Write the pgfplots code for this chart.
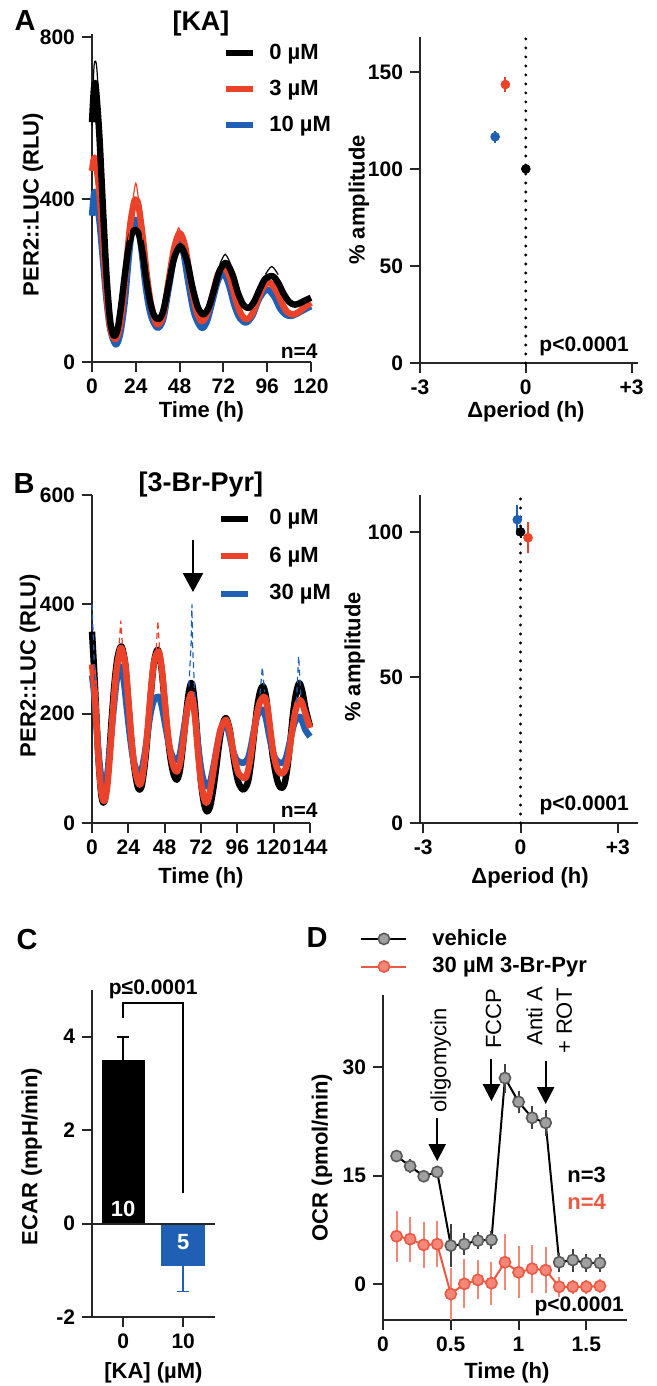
\documentclass[border=0pt]{standalone}
\usepackage{fontspec}
\setmainfont{Liberation Sans}
\usepackage{pgfplots}
\pgfplotsset{compat=1.18}
\usetikzlibrary{arrows.meta}

\definecolor{kred}{RGB}{234,67,42}
\definecolor{kblue}{RGB}{31,95,180}
\definecolor{dred}{RGB}{238,88,66}
\definecolor{dredfill}{RGB}{244,135,120}
\definecolor{dgrey}{RGB}{160,160,160}

\newcommand{\labf}{\fontsize{11}{13}\selectfont\bfseries}
\newcommand{\tickf}{\fontsize{10.5}{12}\selectfont\bfseries}

\tikzset{ann/.style={inner sep=0pt, font=\tickf}}
\pgfplotsset{
  panel/.style={
    scale only axis, anchor=south west, clip=false, enlargelimits=false,
    axis lines=left, axis line style={-, line width=1pt, black!85},
    tick align=outside, major tick length=5pt,
    every tick/.style={line width=1pt, black!85},
    tick label style={font=\tickf},
    label style={font=\labf},
    /pgf/number format/assume math mode=true,
  },
  ts/.style={line width=3.2pt, smooth, line join=round, forget plot},
}

\begin{document}
\begin{tikzpicture}
\useasboundingbox (0,0) rectangle (328.5pt,693pt);

% panel letters and titles
\node[font=\fontsize{14.5}{16}\selectfont\bfseries] at (12.5pt,682.5pt) {A};
\node[font=\fontsize{13.5}{15}\selectfont\bfseries] at (100.5pt,681pt) {[KA]};
\node[font=\fontsize{14.5}{16}\selectfont\bfseries] at (12pt,451pt) {B};
\node[font=\fontsize{13.5}{15}\selectfont\bfseries] at (100.5pt,450.5pt) {[3-Br-Pyr]};
\node[font=\fontsize{14.5}{16}\selectfont\bfseries] at (13.5pt,223pt) {C};
\node[font=\fontsize{14.5}{16}\selectfont\bfseries] at (158.5pt,224pt) {D};

% ---------- A left
\begin{axis}[panel, at={(46pt,512pt)}, width=109.5pt, height=164pt,
  xmin=0, xmax=120, ymin=0, ymax=807,
  xtick={0,24,...,120}, ytick={0,400,800},
  xlabel={Time (h)}, ylabel={PER2::LUC (RLU)},
  xlabel style={at={(axis description cs:0.5,-0.152)}, anchor=center},
  ylabel style={at={(axis description cs:-0.27,0.48)}, anchor=center},
  legend image code/.code={\draw[#1] (0pt,0pt) -- (13.5pt,0pt);},
  legend cell align=left,
  legend style={draw=none, fill=none, font=\labf, at={(axis description cs:0.598,0.97)},
    anchor=north west, inner sep=0pt, row sep=8.7pt, nodes={inner sep=0pt},
    /tikz/every odd column/.append style={column sep=6.5pt}}]
\addlegendimage{black, line width=3pt}\addlegendentry{0 µM}
\addlegendimage{kred, line width=3pt}\addlegendentry{3 µM}
\addlegendimage{kblue, line width=3pt}\addlegendentry{10 µM}
\addplot[ts, kblue] coordinates {
(0,360) (1,410) (2,415) (4,350) (6,250) (8,150) (10,80) (13,43) (15.5,70) (18,150)
(20,250) (22,330) (23.5,350) (25,340) (27,280) (29,200) (31,140) (33,105) (36,84)
(39,105) (42,180) (45,260) (47.5,293) (50,270) (53,190) (56,120) (60,84) (63,100)
(66,150) (69,200) (72,219) (75,190) (78,140) (81,108) (84.5,97) (88,115) (91,150)
(94,172) (96.5,178) (100,160) (103,132) (106,117) (109,113) (112,118) (116,128) (120,137)};
\addplot[ts, kred] coordinates {
(0,470) (1,500) (2,495) (4,420) (6,300) (8,170) (10,85) (12.5,56) (15,80) (17,150)
(19,250) (21,340) (23,392) (24,400) (25.5,385) (28,300) (30,215) (32,150) (34,110)
(36,92) (39,115) (42,200) (45,280) (48,317) (51,285) (54,200) (57,130) (60,100)
(63,118) (66,165) (69,215) (72.5,235) (76,200) (79,150) (82,115) (85,105) (88,120)
(91,155) (94,185) (97.5,195) (101,175) (104,145) (107,123) (110,117) (113,122) (116,133) (120,146)};
\addplot[ts, black] coordinates {
(0,590) (1,670) (2,680) (4,560) (6,380) (8,210) (10,100) (12,64) (14,80) (16,140)
(18,215) (20,280) (22,318) (24,325) (26,310) (28,260) (30,195) (32,145) (34,115)
(36.5,105) (39,125) (42,190) (45,255) (48.5,285) (52,250) (55,185) (58,135) (61,117)
(64,135) (67,180) (70,225) (73.5,244) (77,215) (80,170) (83,140) (86,133) (89,150)
(92,180) (95,205) (99,211) (102,195) (105,168) (108,148) (111,141) (114,145) (117,152) (120,158)};
% thin replicate traces around the peaks
\addplot[forget plot, kred, line width=0.6pt, smooth] coordinates {(20,300) (22.5,400) (24,440) (25.5,400) (28,300)};
\addplot[forget plot, kred, line width=0.6pt, smooth] coordinates {(45,290) (47.5,330) (50,290)};
\addplot[forget plot, black, line width=0.6pt, smooth] coordinates {(0,580) (1,720) (2,740) (3,700) (5,520)};
\addplot[forget plot, black, line width=0.6pt, smooth] coordinates {(70,240) (73,265) (76,240)};
\addplot[forget plot, black, line width=0.6pt, smooth] coordinates {(95,215) (98.5,235) (102,215)};
\node[ann, anchor=east] at (axis cs:123.8,27) {n=4};
\end{axis}

% ---------- A right
\begin{axis}[panel, at={(210pt,511.5pt)}, width=109pt, height=163pt,
  xmin=-3, xmax=3.18, ymin=0, ymax=168,
  xtick={-3,0,3}, xticklabels={-3,0,+3}, ytick={0,50,100,150},
  xlabel={Δperiod (h)}, ylabel={\% amplitude},
  xlabel style={at={(axis description cs:0.486,-0.15)}, anchor=center},
  ylabel style={at={(axis description cs:-0.28,0.5)}, anchor=center}]
\addplot[black, line width=1.6pt, dash pattern=on 0pt off 4.5pt, line cap=round] coordinates {(0,0) (0,168)};
\addplot[black, only marks, mark=*, mark size=2.2pt, error bars/.cd, y dir=both, y explicit, error mark=none,
  error bar style={line width=1pt, black}] coordinates {(0,100) +- (0,1.5)};
\addplot[kred, only marks, mark=*, mark size=2.2pt, error bars/.cd, y dir=both, y explicit, error mark=none,
  error bar style={line width=1pt, kred}] coordinates {(-0.58,143.5) +- (0,4)};
\addplot[kblue, only marks, mark=*, mark size=2.2pt, error bars/.cd, y dir=both, y explicit, error mark=none,
  error bar style={line width=1pt, kblue}] coordinates {(-0.87,116.6) +- (0,3)};
\node[ann, anchor=east] at (axis cs:2.93,8.8) {p<0.0001};
\end{axis}

% ---------- B left
\begin{axis}[panel, at={(46pt,281.5pt)}, width=109pt, height=164pt,
  xmin=0, xmax=144, ymin=0, ymax=600,
  xtick={0,24,...,144}, ytick={0,200,400,600},
  xlabel={Time (h)}, ylabel={PER2::LUC (RLU)},
  xlabel style={at={(axis description cs:0.5,-0.168)}, anchor=center},
  ylabel style={at={(axis description cs:-0.285,0.48)}, anchor=center},
  legend image code/.code={\draw[#1] (0pt,0pt) -- (13.5pt,0pt);},
  legend cell align=left,
  legend style={draw=none, fill=none, font=\labf, at={(axis description cs:0.578,0.957)},
    anchor=north west, inner sep=0pt, row sep=9.6pt, nodes={inner sep=0pt},
    /tikz/every odd column/.append style={column sep=9pt}}]
\addlegendimage{black, line width=3pt}\addlegendentry{0 µM}
\addlegendimage{kred, line width=3pt}\addlegendentry{6 µM}
\addlegendimage{kblue, line width=3pt}\addlegendentry{30 µM}
\addplot[ts, black] coordinates {
(0,350) (2,250) (4,130) (6,55) (7.5,37) (9,50) (11,110) (13,190) (15,260) (17,305)
(19.5,323) (22,290) (24,220) (26,150) (28,100) (30,68) (31.5,61) (33,70) (35,110)
(37,170) (39,240) (41,295) (43.5,317) (46,280) (48,220) (50,160) (52,115) (54,88)
(56,79) (58,95) (60,140) (62,195) (64,240) (66,256) (68,215) (70,140) (72,75) (74,35)
(76,21) (78,30) (80,60) (82,100) (84,145) (86,178) (88.5,192) (91,170) (93,130)
(95,95) (97,72) (100,61) (103,75) (105,110) (107,160) (109,210) (111,240) (113,250)
(115,230) (117,180) (119,130) (121,95) (123,72) (125,64) (127,70) (129,100) (131,150)
(133,205) (135,240) (137,256) (139,240) (141,210) (144,177)};
\addplot[ts, kblue] coordinates {
(0,270) (2,220) (4,140) (6,85) (8,67) (10,85) (12,140) (14,200) (16,255) (17.5,280)
(19,286) (21,260) (23,210) (25,160) (27,120) (29,100) (31,94) (33,100) (35,130)
(37,170) (39,205) (41,225) (44,231) (46,215) (48,185) (50,155) (52,130) (54,118)
(56,116) (58,125) (60,160) (62,195) (64,222) (66,231) (68,200) (70,145) (72,100)
(74,75) (76,67) (78,75) (80,100) (82,130) (84,158) (86,176) (88,183) (90,170) (92,145)
(94,125) (96,114) (100,110) (103,118) (105,140) (107,170) (109,195) (111,205) (113,207)
(115,190) (117,160) (119,135) (121,118) (124,110) (126,110) (128,118) (130,140)
(132,165) (134,185) (137,195) (139,185) (141,170) (144,158)};
\addplot[ts, kred] coordinates {
(0,290) (2,230) (4,130) (6,60) (8,40) (10,65) (12,130) (14,210) (16,275) (18,310)
(19.5,320) (22,290) (24,225) (26,155) (28,105) (30,78) (31.5,70) (33,80) (35,120)
(37,180) (39,245) (41,295) (44,314) (46,285) (48,225) (50,165) (52,125) (54,102)
(56,94) (58,108) (60,145) (62,190) (64,225) (66,235) (68,195) (70,130) (72,75) (74,45)
(75.5,37) (77,45) (79,75) (81,110) (83,145) (85,172) (88.5,189) (91,168) (93,135)
(95,108) (97,90) (101,82) (103,95) (105,125) (107,165) (109,200) (111,222) (114,231)
(116,210) (118,165) (120,125) (122,102) (124,92) (126,91) (128,100) (130,125)
(132,165) (134,200) (136,220) (137.5,225) (139,218) (141,200) (144,174)};
% thin replicate spikes
\addplot[forget plot, kblue, line width=0.6pt, densely dashed] coordinates {(0,400) (1,330) (2,250)};
\addplot[forget plot, kblue, line width=0.6pt, densely dashed] coordinates {(64,250) (65.5,330) (66,400) (66.5,320) (68,230)};
\addplot[forget plot, kblue, line width=0.6pt, densely dashed] coordinates {(111,235) (112.5,285) (114,240)};
\addplot[forget plot, kblue, line width=0.6pt, densely dashed] coordinates {(135,220) (136.5,305) (138,230)};
\addplot[forget plot, kred, line width=0.6pt, densely dashed] coordinates {(17.5,310) (19,370) (20.5,310)};
\addplot[forget plot, kred, line width=0.6pt, densely dashed] coordinates {(42,300) (43.5,370) (45,300)};
\draw[-{Triangle[width=10pt,length=9.5pt]}, line width=1.2pt] (axis cs:66.7,517.7) -- (axis cs:66.7,422.5);
\node[ann, anchor=east] at (axis cs:149.3,23.8) {n=4};
\end{axis}

% ---------- B right
\begin{axis}[panel, at={(210pt,281.5pt)}, width=109pt, height=164pt,
  xmin=-3.1, xmax=3.62, ymin=0, ymax=112.7,
  xtick={-3,0,3}, xticklabels={-3,0,+3}, ytick={0,50,100},
  xlabel={Δperiod (h)}, ylabel={\% amplitude},
  xlabel style={at={(axis description cs:0.505,-0.168)}, anchor=center},
  ylabel style={at={(axis description cs:-0.30,0.506)}, anchor=center}]
\addplot[black, line width=1.6pt, dash pattern=on 0pt off 4.5pt, line cap=round] coordinates {(0,0) (0,112.7)};
\addplot[kblue, only marks, mark=*, mark size=2.2pt, error bars/.cd, y dir=both, y explicit, error mark=none,
  error bar style={line width=1pt, kblue}] coordinates {(-0.1,104.2) +- (0,5.1)};
\addplot[black, only marks, mark=*, mark size=2.2pt, error bars/.cd, y dir=both, y explicit, error mark=none,
  error bar style={line width=1pt, black}] coordinates {(0,100) +- (0,2)};
\addplot[kred, only marks, mark=*, mark size=2.2pt, error bars/.cd, y dir=both, y explicit, error mark=none,
  error bar style={line width=1pt, kred}] coordinates {(0.23,98) +- (0,5.4)};
\node[ann, anchor=east] at (axis cs:3.35,6.2) {p<0.0001};
\end{axis}

% ---------- C
\begin{axis}[panel, at={(46pt,34.5pt)}, width=61.5pt, height=163.5pt,
  xmin=-0.52, xmax=1.53, ymin=-2, ymax=5,
  xtick={0,1}, xticklabels={0,10}, ytick={-2,0,2,4}, yticklabels={-2,0,2,4},
  xlabel={[KA] (µM)}, ylabel={ECAR (mpH/min)},
  xlabel style={at={(axis description cs:0.5,-0.171)}, anchor=center},
  ylabel style={at={(axis description cs:-0.49,0.49)}, anchor=center}]
\addplot[ybar, bar width=0.7, bar shift=0pt, fill=black, draw=black,
  error bars/.cd, y dir=plus, y explicit, error mark=-,
  error mark options={rotate=90, line width=1pt, black, mark size=3pt},
  error bar style={line width=1pt, black}] coordinates {(0,3.5) +- (0,0.5)};
\addplot[ybar, bar width=0.72, bar shift=0pt, fill=kblue, draw=kblue,
  error bars/.cd, y dir=minus, y explicit, error mark=-,
  error mark options={rotate=90, line width=0.8pt, kblue, mark size=3pt},
  error bar style={line width=0.8pt, kblue}] coordinates {(1,-0.9) +- (0,0.55)};
\draw[line width=1pt, black!85] (axis cs:-0.52,0) -- (axis cs:1.53,0);
\draw[line width=0.9pt] (axis cs:0,4.41) -- (axis cs:0,4.73) -- (axis cs:1,4.73) -- (axis cs:1,0.65);
\node[ann] at (axis cs:0.5,5.02) {p≤0.0001};
\node[ann, white, font=\labf] at (axis cs:0,0.32) {10};
\node[ann, white, font=\labf] at (axis cs:1,-0.4) {5};
\end{axis}

% ---------- D
\begin{axis}[panel, at={(191.5pt,33pt)}, width=122pt, height=162.5pt,
  xmin=0, xmax=1.8, ymin=-5, ymax=40,
  xtick={0,0.5,1,1.5}, ytick={0,15,30},
  xlabel={Time (h)}, ylabel={OCR (pmol/min)},
  xlabel style={at={(axis description cs:0.508,-0.163)}, anchor=center},
  ylabel style={at={(axis description cs:-0.25,0.5)}, anchor=center},
  legend image code/.code={\draw[mark repeat=2, mark phase=2, #1] plot coordinates {(0pt,0pt) (11.25pt,0pt) (22.5pt,0pt)};},
  legend cell align=left,
  legend style={draw=none, fill=none, font=\labf, at={(axis description cs:-0.094,1.203)},
    anchor=north west, inner sep=0pt, row sep=4.5pt, nodes={inner sep=0pt},
    /tikz/every odd column/.append style={column sep=12.5pt}}]
\addplot[black, line width=1pt, mark=*, mark size=2.8pt, mark options={fill=dgrey, draw=black!65, line width=0.8pt},
  error bars/.cd, y dir=both, y explicit, error mark=none, error bar style={line width=1pt, black!75}]
coordinates {
(0.1,17.7) +- (0,0.8) (0.2,16.3) +- (0,1) (0.3,14.9) +- (0,0.8) (0.4,15.5) +- (0,0.8)
(0.5,5.3) +- (0,3) (0.6,5.5) +- (0,1.5) (0.7,6.0) +- (0,1.2) (0.8,6.1) +- (0,1.2)
(0.9,28.5) +- (0,2) (1.0,25.2) +- (0,1.5) (1.1,23.0) +- (0,1.6) (1.2,22.3) +- (0,1.8)
(1.3,3.0) +- (0,1.3) (1.4,3.3) +- (0,1.6) (1.5,2.9) +- (0,1.3) (1.6,2.9) +- (0,1.3)};
\addlegendentry{vehicle}
\addplot[dred, line width=1pt, mark=*, mark size=2.8pt, mark options={fill=dredfill, draw=dred, line width=0.8pt},
  error bars/.cd, y dir=both, y explicit, error mark=none, error bar style={line width=1pt, dredfill}]
coordinates {
(0.1,6.6) +- (0,3.5) (0.2,6.2) +- (0,3.1) (0.3,5.4) +- (0,3.2) (0.4,5.5) +- (0,3.2)
(0.5,-1.4) +- (0,3.6) (0.6,0) +- (0,3.4) (0.7,0.55) +- (0,2.7) (0.8,0.1) +- (0,3.0)
(0.9,3.0) +- (0,3.9) (1.0,1.6) +- (0,3.6) (1.1,2.1) +- (0,3.3) (1.2,1.9) +- (0,3.2)
(1.3,-0.4) +- (0,1.4) (1.4,-0.4) +- (0,1.0) (1.5,-0.4) +- (0,1.0) (1.6,-0.3) +- (0,1.0)};
\addlegendentry{30 µM 3-Br-Pyr}
\draw[-{Triangle[width=8.5pt,length=8.5pt]}, line width=1pt] (axis cs:0.4,23) -- (axis cs:0.4,17);
\draw[-{Triangle[width=8.5pt,length=8.5pt]}, line width=1pt] (axis cs:0.8,31.1) -- (axis cs:0.8,25.3);
\draw[-{Triangle[width=8.5pt,length=8.5pt]}, line width=1pt] (axis cs:1.2,30.9) -- (axis cs:1.2,24.9);
\node[inner sep=0pt, rotate=90, anchor=west, font=\fontsize{11}{13}\selectfont] at (axis cs:0.425,23.7) {oligomycin};
\node[inner sep=0pt, rotate=90, anchor=west, font=\fontsize{11}{13}\selectfont] at (axis cs:0.815,32.5) {FCCP};
\node[inner sep=0pt, rotate=90, anchor=west, font=\fontsize{11}{13}\selectfont] at (axis cs:1.118,33.0) {Anti A};
\node[inner sep=0pt, rotate=90, anchor=west, font=\fontsize{11}{13}\selectfont] at (axis cs:1.338,31.8) {+ ROT};
\node[ann, anchor=east, font=\labf] at (axis cs:1.647,15.1) {n=3};
\node[ann, anchor=east, font=\labf, dred] at (axis cs:1.647,11.4) {n=4};
\node[ann, anchor=east] at (axis cs:1.78,-3.1) {p<0.0001};
\end{axis}
\end{tikzpicture}
\end{document}
